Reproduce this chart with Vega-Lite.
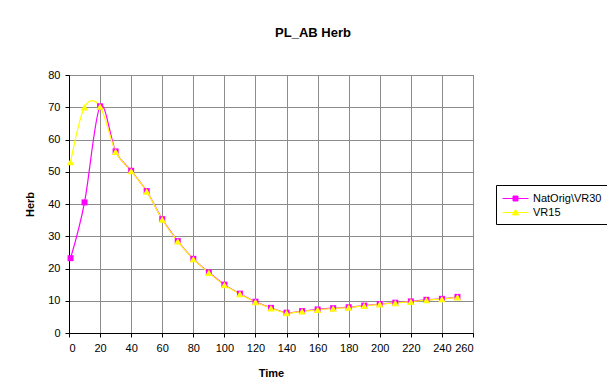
{
  "$schema": "https://vega.github.io/schema/vega-lite/v6.json",
  "width": 404,
  "height": 258,
  "autosize": "none",
  "padding": {"left": 69, "top": 75, "right": 134, "bottom": 58},
  "background": "white",
  "title": {
    "text": "PL_AB Herb",
    "font": "Liberation Sans",
    "fontSize": 13,
    "fontWeight": "bold",
    "color": "black",
    "anchor": "middle",
    "dx": 42,
    "offset": 29
  },
  "config": {
    "view": {"stroke": "#333333", "strokeWidth": 1},
    "axis": {
      "labelFont": "Liberation Sans",
      "labelFontSize": 11,
      "labelColor": "black",
      "titleFont": "Liberation Sans",
      "titleFontSize": 11,
      "titleFontWeight": "bold",
      "titleColor": "black",
      "domainColor": "black",
      "tickColor": "black",
      "tickSize": 4,
      "gridColor": "#8c8c8c",
      "gridOpacity": 1
    }
  },
  "data": {
    "values": [
      {"series": "NatOrig\\VR30", "Time": 1, "Herb": 23.2},
      {"series": "NatOrig\\VR30", "Time": 10, "Herb": 40.5},
      {"series": "NatOrig\\VR30", "Time": 20, "Herb": 70.3},
      {"series": "NatOrig\\VR30", "Time": 30, "Herb": 56.3},
      {"series": "NatOrig\\VR30", "Time": 40, "Herb": 50.3},
      {"series": "NatOrig\\VR30", "Time": 50, "Herb": 44.0},
      {"series": "NatOrig\\VR30", "Time": 60, "Herb": 35.3},
      {"series": "NatOrig\\VR30", "Time": 70, "Herb": 28.5},
      {"series": "NatOrig\\VR30", "Time": 80, "Herb": 23.0},
      {"series": "NatOrig\\VR30", "Time": 90, "Herb": 18.8},
      {"series": "NatOrig\\VR30", "Time": 100, "Herb": 15.0},
      {"series": "NatOrig\\VR30", "Time": 110, "Herb": 12.2},
      {"series": "NatOrig\\VR30", "Time": 120, "Herb": 9.7},
      {"series": "NatOrig\\VR30", "Time": 130, "Herb": 7.8},
      {"series": "NatOrig\\VR30", "Time": 140, "Herb": 6.3},
      {"series": "NatOrig\\VR30", "Time": 150, "Herb": 6.8},
      {"series": "NatOrig\\VR30", "Time": 160, "Herb": 7.3},
      {"series": "NatOrig\\VR30", "Time": 170, "Herb": 7.7},
      {"series": "NatOrig\\VR30", "Time": 180, "Herb": 8.0},
      {"series": "NatOrig\\VR30", "Time": 190, "Herb": 8.5},
      {"series": "NatOrig\\VR30", "Time": 200, "Herb": 9.0},
      {"series": "NatOrig\\VR30", "Time": 210, "Herb": 9.4},
      {"series": "NatOrig\\VR30", "Time": 220, "Herb": 9.8},
      {"series": "NatOrig\\VR30", "Time": 230, "Herb": 10.3},
      {"series": "NatOrig\\VR30", "Time": 240, "Herb": 10.6},
      {"series": "NatOrig\\VR30", "Time": 250, "Herb": 11.2},
      {"series": "VR15", "Time": 1, "Herb": 53.0},
      {"series": "VR15", "Time": 10, "Herb": 70.0},
      {"series": "VR15", "Time": 20, "Herb": 70.2},
      {"series": "VR15", "Time": 30, "Herb": 56.2},
      {"series": "VR15", "Time": 40, "Herb": 50.2},
      {"series": "VR15", "Time": 50, "Herb": 43.9},
      {"series": "VR15", "Time": 60, "Herb": 35.2},
      {"series": "VR15", "Time": 70, "Herb": 28.4},
      {"series": "VR15", "Time": 80, "Herb": 22.9},
      {"series": "VR15", "Time": 90, "Herb": 18.7},
      {"series": "VR15", "Time": 100, "Herb": 14.9},
      {"series": "VR15", "Time": 110, "Herb": 12.1},
      {"series": "VR15", "Time": 120, "Herb": 9.6},
      {"series": "VR15", "Time": 130, "Herb": 7.7},
      {"series": "VR15", "Time": 140, "Herb": 6.2},
      {"series": "VR15", "Time": 150, "Herb": 6.7},
      {"series": "VR15", "Time": 160, "Herb": 7.2},
      {"series": "VR15", "Time": 170, "Herb": 7.6},
      {"series": "VR15", "Time": 180, "Herb": 7.9},
      {"series": "VR15", "Time": 190, "Herb": 8.4},
      {"series": "VR15", "Time": 200, "Herb": 8.9},
      {"series": "VR15", "Time": 210, "Herb": 9.3},
      {"series": "VR15", "Time": 220, "Herb": 9.7},
      {"series": "VR15", "Time": 230, "Herb": 10.2},
      {"series": "VR15", "Time": 240, "Herb": 10.5},
      {"series": "VR15", "Time": 250, "Herb": 11.1}
    ]
  },
  "encoding": {
    "x": {
      "field": "Time",
      "type": "quantitative",
      "scale": {"domain": [0, 260], "nice": false},
      "axis": {
        "title": "Time",
        "values": [0, 20, 40, 60, 80, 100, 120, 140, 160, 180, 200, 220, 240, 260],
        "labelPadding": 5,
        "titlePadding": 14
      }
    },
    "y": {
      "field": "Herb",
      "type": "quantitative",
      "scale": {"domain": [0, 80], "nice": false},
      "axis": {
        "title": "Herb",
        "values": [0, 10, 20, 30, 40, 50, 60, 70, 80],
        "labelPadding": 5,
        "titlePadding": 12
      }
    },
    "color": {
      "field": "series",
      "type": "nominal",
      "scale": {"domain": ["NatOrig\\VR30", "VR15"], "range": ["#FF00FF", "#FFFF00"]},
      "legend": {
        "title": null,
        "orient": "none",
        "legendX": 427,
        "legendY": 110,
        "strokeColor": "black",
        "padding": 6,
        "fillColor": "white",
        "labelFont": "Liberation Sans",
        "labelFontSize": 11,
        "labelColor": "black",
        "labelOffset": 16,
        "rowPadding": 1,
        "symbolSize": 196,
        "symbolStrokeWidth": 1,
        "encode": {
          "symbols": {
            "update": {
              "shape": {"signal": "datum.value == 'VR15' ? 'M-1,0H2.714M0.857,-0.45L1.3,0.35H0.414Z' : 'M-1,0H2.714M0.5,-0.357H1.214V0.357H0.5Z'"},
              "size": {"signal": "196"},
              "stroke": {"signal": "datum.value == 'VR15' ? '#FFFF00' : '#FF00FF'"},
              "fill": {"signal": "datum.value == 'VR15' ? '#FFFF00' : '#FF00FF'"}
            }
          }
        }
      }
    }
  },
  "layer": [
    {
      "mark": {"type": "line", "interpolate": "cardinal", "strokeWidth": 1.2}
    },
    {
      "transform": [{"filter": "datum.series != 'VR15'"}],
      "mark": {"type": "point", "filled": true, "opacity": 1, "shape": "square", "size": 36}
    },
    {
      "transform": [{"filter": "datum.series == 'VR15'"}],
      "mark": {"type": "point", "filled": true, "opacity": 1, "shape": "triangle-up", "size": 55}
    }
  ]
}
